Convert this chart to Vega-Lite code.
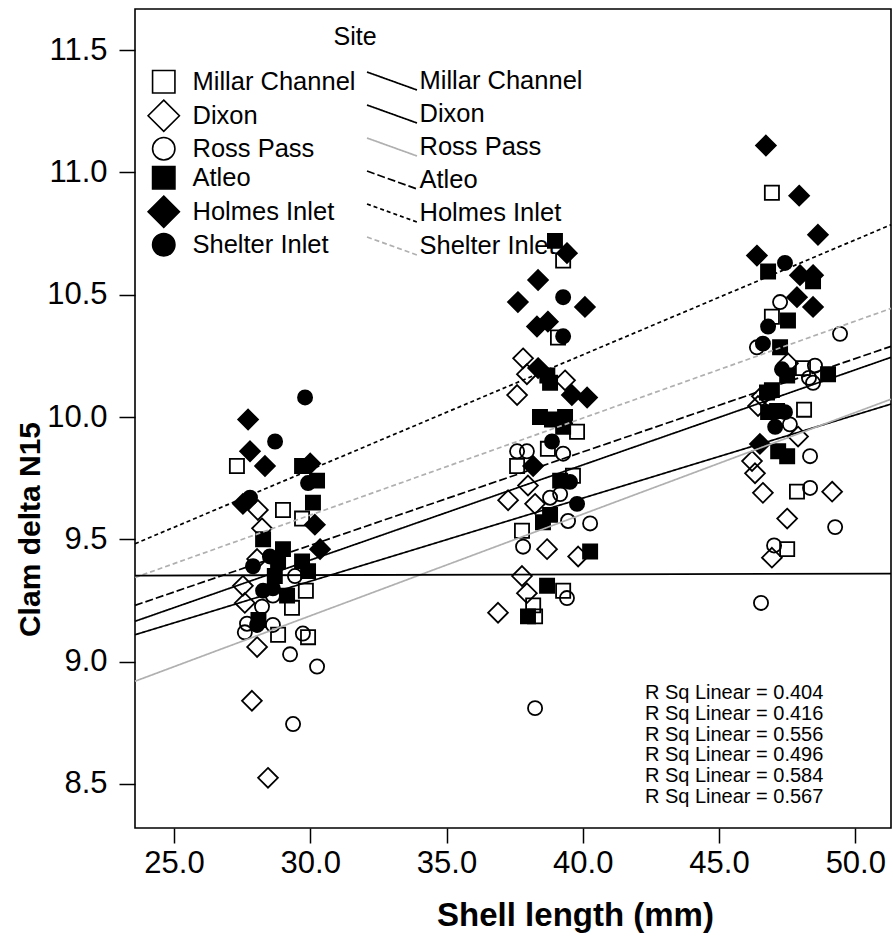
{
  "$schema": "https://vega.github.io/schema/vega-lite/v6.json",
  "width": 756,
  "height": 819,
  "autosize": {"type": "none"},
  "padding": {"left": 135, "top": 9, "right": 2, "bottom": 116},
  "background": "white",
  "config": {
    "view": {"stroke": "black", "strokeWidth": 1.6},
    "font": "Liberation Sans",
    "axis": {"grid": false, "domain": false, "ticks": true, "tickColor": "black", "tickWidth": 1.5, "labelColor": "black", "titleColor": "black"}
  },
  "datasets": {
    "points": [
      {"site": "Millar Channel", "len": 27.31, "n15": 9.80},
      {"site": "Millar Channel", "len": 29.0, "n15": 9.62},
      {"site": "Millar Channel", "len": 29.7, "n15": 9.585},
      {"site": "Millar Channel", "len": 29.84, "n15": 9.29},
      {"site": "Millar Channel", "len": 29.33, "n15": 9.22},
      {"site": "Millar Channel", "len": 28.82, "n15": 9.11},
      {"site": "Millar Channel", "len": 29.92, "n15": 9.10},
      {"site": "Millar Channel", "len": 39.28, "n15": 10.64},
      {"site": "Millar Channel", "len": 39.09, "n15": 10.325},
      {"site": "Millar Channel", "len": 39.79, "n15": 9.94},
      {"site": "Millar Channel", "len": 38.72, "n15": 9.87},
      {"site": "Millar Channel", "len": 37.59, "n15": 9.80},
      {"site": "Millar Channel", "len": 39.64, "n15": 9.76},
      {"site": "Millar Channel", "len": 37.77, "n15": 9.535},
      {"site": "Millar Channel", "len": 39.28, "n15": 9.29},
      {"site": "Millar Channel", "len": 38.18, "n15": 9.23},
      {"site": "Millar Channel", "len": 38.25, "n15": 9.185},
      {"site": "Millar Channel", "len": 46.94, "n15": 10.917},
      {"site": "Millar Channel", "len": 46.94, "n15": 10.41},
      {"site": "Millar Channel", "len": 48.08, "n15": 10.20},
      {"site": "Millar Channel", "len": 48.12, "n15": 10.03},
      {"site": "Millar Channel", "len": 47.86, "n15": 9.695},
      {"site": "Millar Channel", "len": 47.5, "n15": 9.46},
      {"site": "Dixon", "len": 28.08, "n15": 9.62},
      {"site": "Dixon", "len": 28.23, "n15": 9.545},
      {"site": "Dixon", "len": 28.05, "n15": 9.42},
      {"site": "Dixon", "len": 27.53, "n15": 9.31},
      {"site": "Dixon", "len": 27.6, "n15": 9.24},
      {"site": "Dixon", "len": 28.05, "n15": 9.06},
      {"site": "Dixon", "len": 27.86, "n15": 8.84},
      {"site": "Dixon", "len": 28.45, "n15": 8.525},
      {"site": "Dixon", "len": 37.81, "n15": 10.24},
      {"site": "Dixon", "len": 37.95, "n15": 10.175},
      {"site": "Dixon", "len": 39.35, "n15": 10.15},
      {"site": "Dixon", "len": 37.59, "n15": 10.09},
      {"site": "Dixon", "len": 37.99, "n15": 9.72},
      {"site": "Dixon", "len": 37.26, "n15": 9.66},
      {"site": "Dixon", "len": 38.25, "n15": 9.645},
      {"site": "Dixon", "len": 38.69, "n15": 9.46},
      {"site": "Dixon", "len": 39.83, "n15": 9.43},
      {"site": "Dixon", "len": 37.77, "n15": 9.35},
      {"site": "Dixon", "len": 37.95, "n15": 9.28},
      {"site": "Dixon", "len": 36.89, "n15": 9.20},
      {"site": "Dixon", "len": 47.53, "n15": 10.22},
      {"site": "Dixon", "len": 46.57, "n15": 10.085},
      {"site": "Dixon", "len": 46.43, "n15": 10.045},
      {"site": "Dixon", "len": 47.9, "n15": 9.92},
      {"site": "Dixon", "len": 46.21, "n15": 9.82},
      {"site": "Dixon", "len": 46.32, "n15": 9.77},
      {"site": "Dixon", "len": 46.61, "n15": 9.69},
      {"site": "Dixon", "len": 49.15, "n15": 9.695},
      {"site": "Dixon", "len": 47.5, "n15": 9.585},
      {"site": "Dixon", "len": 46.94, "n15": 9.425},
      {"site": "Ross Pass", "len": 29.44, "n15": 9.35},
      {"site": "Ross Pass", "len": 28.23, "n15": 9.225},
      {"site": "Ross Pass", "len": 28.63, "n15": 9.27},
      {"site": "Ross Pass", "len": 27.6, "n15": 9.12},
      {"site": "Ross Pass", "len": 27.68, "n15": 9.155},
      {"site": "Ross Pass", "len": 28.63, "n15": 9.15},
      {"site": "Ross Pass", "len": 29.73, "n15": 9.115},
      {"site": "Ross Pass", "len": 29.26, "n15": 9.03},
      {"site": "Ross Pass", "len": 30.25, "n15": 8.98},
      {"site": "Ross Pass", "len": 29.37, "n15": 8.745},
      {"site": "Ross Pass", "len": 37.59, "n15": 9.86},
      {"site": "Ross Pass", "len": 37.95, "n15": 9.86},
      {"site": "Ross Pass", "len": 39.28, "n15": 9.85},
      {"site": "Ross Pass", "len": 38.8, "n15": 9.67},
      {"site": "Ross Pass", "len": 39.17, "n15": 9.685},
      {"site": "Ross Pass", "len": 39.46, "n15": 9.575},
      {"site": "Ross Pass", "len": 40.27, "n15": 9.565},
      {"site": "Ross Pass", "len": 37.81, "n15": 9.47},
      {"site": "Ross Pass", "len": 39.42, "n15": 9.26},
      {"site": "Ross Pass", "len": 38.25, "n15": 8.81},
      {"site": "Ross Pass", "len": 47.24, "n15": 10.47},
      {"site": "Ross Pass", "len": 49.44, "n15": 10.34},
      {"site": "Ross Pass", "len": 46.39, "n15": 10.285},
      {"site": "Ross Pass", "len": 48.52, "n15": 10.21},
      {"site": "Ross Pass", "len": 48.45, "n15": 10.14},
      {"site": "Ross Pass", "len": 48.3, "n15": 10.16},
      {"site": "Ross Pass", "len": 47.6, "n15": 9.97},
      {"site": "Ross Pass", "len": 48.34, "n15": 9.84},
      {"site": "Ross Pass", "len": 48.34, "n15": 9.71},
      {"site": "Ross Pass", "len": 49.26, "n15": 9.55},
      {"site": "Ross Pass", "len": 47.02, "n15": 9.475},
      {"site": "Ross Pass", "len": 46.54, "n15": 9.24},
      {"site": "Atleo", "len": 29.70, "n15": 9.80},
      {"site": "Atleo", "len": 30.25, "n15": 9.74},
      {"site": "Atleo", "len": 30.1, "n15": 9.65},
      {"site": "Atleo", "len": 28.27, "n15": 9.50},
      {"site": "Atleo", "len": 29.0, "n15": 9.46},
      {"site": "Atleo", "len": 28.82, "n15": 9.41},
      {"site": "Atleo", "len": 28.7, "n15": 9.35},
      {"site": "Atleo", "len": 29.7, "n15": 9.41},
      {"site": "Atleo", "len": 29.92, "n15": 9.37},
      {"site": "Atleo", "len": 28.1, "n15": 9.17},
      {"site": "Atleo", "len": 29.15, "n15": 9.27},
      {"site": "Atleo", "len": 38.98, "n15": 10.72},
      {"site": "Atleo", "len": 38.8, "n15": 10.14},
      {"site": "Atleo", "len": 38.7, "n15": 10.17},
      {"site": "Atleo", "len": 38.43, "n15": 10.00},
      {"site": "Atleo", "len": 38.87, "n15": 9.99},
      {"site": "Atleo", "len": 39.35, "n15": 10.00},
      {"site": "Atleo", "len": 39.28, "n15": 9.96},
      {"site": "Atleo", "len": 39.17, "n15": 9.74},
      {"site": "Atleo", "len": 38.8, "n15": 9.60},
      {"site": "Atleo", "len": 38.54, "n15": 9.57},
      {"site": "Atleo", "len": 40.27, "n15": 9.45},
      {"site": "Atleo", "len": 38.69, "n15": 9.31},
      {"site": "Atleo", "len": 37.99, "n15": 9.185},
      {"site": "Atleo", "len": 46.8, "n15": 10.595},
      {"site": "Atleo", "len": 48.45, "n15": 10.555},
      {"site": "Atleo", "len": 47.53, "n15": 10.395},
      {"site": "Atleo", "len": 47.24, "n15": 10.285},
      {"site": "Atleo", "len": 47.5, "n15": 10.17},
      {"site": "Atleo", "len": 49.0, "n15": 10.175},
      {"site": "Atleo", "len": 46.94, "n15": 10.11},
      {"site": "Atleo", "len": 46.76, "n15": 10.10},
      {"site": "Atleo", "len": 46.8, "n15": 10.02},
      {"site": "Atleo", "len": 47.13, "n15": 10.025},
      {"site": "Atleo", "len": 47.5, "n15": 9.84},
      {"site": "Atleo", "len": 47.17, "n15": 9.86},
      {"site": "Holmes Inlet", "len": 27.72, "n15": 9.99},
      {"site": "Holmes Inlet", "len": 27.79, "n15": 9.86},
      {"site": "Holmes Inlet", "len": 28.34, "n15": 9.80},
      {"site": "Holmes Inlet", "len": 30.0, "n15": 9.81},
      {"site": "Holmes Inlet", "len": 30.17, "n15": 9.56},
      {"site": "Holmes Inlet", "len": 27.53, "n15": 9.645},
      {"site": "Holmes Inlet", "len": 30.36, "n15": 9.46},
      {"site": "Holmes Inlet", "len": 39.42, "n15": 10.67},
      {"site": "Holmes Inlet", "len": 38.36, "n15": 10.56},
      {"site": "Holmes Inlet", "len": 37.62, "n15": 10.47},
      {"site": "Holmes Inlet", "len": 40.08, "n15": 10.45},
      {"site": "Holmes Inlet", "len": 38.32, "n15": 10.37},
      {"site": "Holmes Inlet", "len": 38.72, "n15": 10.39},
      {"site": "Holmes Inlet", "len": 38.36, "n15": 10.20},
      {"site": "Holmes Inlet", "len": 39.6, "n15": 10.09},
      {"site": "Holmes Inlet", "len": 40.16, "n15": 10.08},
      {"site": "Holmes Inlet", "len": 38.18, "n15": 9.80},
      {"site": "Holmes Inlet", "len": 46.72, "n15": 11.11},
      {"site": "Holmes Inlet", "len": 47.94, "n15": 10.905},
      {"site": "Holmes Inlet", "len": 48.63, "n15": 10.745},
      {"site": "Holmes Inlet", "len": 46.39, "n15": 10.66},
      {"site": "Holmes Inlet", "len": 47.97, "n15": 10.58},
      {"site": "Holmes Inlet", "len": 48.45, "n15": 10.58},
      {"site": "Holmes Inlet", "len": 47.86, "n15": 10.49},
      {"site": "Holmes Inlet", "len": 48.45, "n15": 10.45},
      {"site": "Holmes Inlet", "len": 46.5, "n15": 9.89},
      {"site": "Shelter Inlet", "len": 29.81, "n15": 10.08},
      {"site": "Shelter Inlet", "len": 28.71, "n15": 9.90},
      {"site": "Shelter Inlet", "len": 29.92, "n15": 9.73},
      {"site": "Shelter Inlet", "len": 27.79, "n15": 9.67},
      {"site": "Shelter Inlet", "len": 28.52, "n15": 9.43},
      {"site": "Shelter Inlet", "len": 28.63, "n15": 9.30},
      {"site": "Shelter Inlet", "len": 28.27, "n15": 9.29},
      {"site": "Shelter Inlet", "len": 27.9, "n15": 9.39},
      {"site": "Shelter Inlet", "len": 28.05, "n15": 9.15},
      {"site": "Shelter Inlet", "len": 39.28, "n15": 10.49},
      {"site": "Shelter Inlet", "len": 39.28, "n15": 10.33},
      {"site": "Shelter Inlet", "len": 38.87, "n15": 9.90},
      {"site": "Shelter Inlet", "len": 39.53, "n15": 9.735},
      {"site": "Shelter Inlet", "len": 39.79, "n15": 9.645},
      {"site": "Shelter Inlet", "len": 47.42, "n15": 10.63},
      {"site": "Shelter Inlet", "len": 46.8, "n15": 10.37},
      {"site": "Shelter Inlet", "len": 46.61, "n15": 10.30},
      {"site": "Shelter Inlet", "len": 47.31, "n15": 10.195},
      {"site": "Shelter Inlet", "len": 47.42, "n15": 10.02},
      {"site": "Shelter Inlet", "len": 47.06, "n15": 9.96}
    ],
    "fits": [
      {"site": "Millar Channel", "k": 1, "len": 23.57, "n15": 9.165},
      {"site": "Millar Channel", "k": 1, "len": 51.31, "n15": 10.244},
      {"site": "Dixon", "k": 2, "len": 23.57, "n15": 9.11},
      {"site": "Dixon", "k": 2, "len": 51.31, "n15": 10.053},
      {"site": "Ross Pass", "k": 3, "len": 23.57, "n15": 8.92},
      {"site": "Ross Pass", "k": 3, "len": 51.31, "n15": 10.073},
      {"site": "Atleo", "k": 4, "len": 23.57, "n15": 9.23},
      {"site": "Atleo", "k": 4, "len": 51.31, "n15": 10.289},
      {"site": "Holmes Inlet", "k": 5, "len": 23.57, "n15": 9.482},
      {"site": "Holmes Inlet", "k": 5, "len": 51.31, "n15": 10.786},
      {"site": "Shelter Inlet", "k": 6, "len": 23.57, "n15": 9.344},
      {"site": "Shelter Inlet", "k": 6, "len": 51.31, "n15": 10.444}
    ],
    "ref": [
      {"len": 23.57, "n15": 9.352},
      {"len": 51.31, "n15": 9.36}
    ],
    "rsq": [
      {"label": "R Sq Linear = 0.404", "len": 42.28, "n15": 8.872},
      {"label": "R Sq Linear = 0.416", "len": 42.28, "n15": 8.787},
      {"label": "R Sq Linear = 0.556", "len": 42.28, "n15": 8.702},
      {"label": "R Sq Linear = 0.496", "len": 42.28, "n15": 8.617},
      {"label": "R Sq Linear = 0.584", "len": 42.28, "n15": 8.532},
      {"label": "R Sq Linear = 0.567", "len": 42.28, "n15": 8.447}
    ]
  },
  "layer": [
    {
      "data": {"name": "points"},
      "mark": {"type": "point", "size": 200, "stroke": "black", "strokeWidth": 1.8, "opacity": 1},
      "encoding": {
        "x": {
          "field": "len", "type": "quantitative",
          "scale": {"domain": [23.57, 51.31], "nice": false, "zero": false},
          "axis": {"values": [25, 30, 35, 40, 45, 50], "format": ".1f", "title": "Shell length (mm)", "ticks": true, "tickSize": 15, "labelFontSize": 31, "labelPadding": 5, "titleFontSize": 33, "titleFontWeight": "bold", "titleX": 440, "titleY": 87, "titleBaseline": "middle"}
        },
        "y": {
          "field": "n15", "type": "quantitative",
          "scale": {"domain": [8.32, 11.668], "nice": false, "zero": false},
          "axis": {"values": [8.5, 9, 9.5, 10, 10.5, 11, 11.5], "format": ".1f", "title": "Clam delta N15", "ticks": true, "tickSize": 16, "labelFontSize": 31, "labelPadding": 12, "titleFontSize": 30, "titleFontWeight": "bold", "titleX": -105, "titleY": 520, "titleBaseline": "middle"}
        },
        "shape": {
          "field": "site", "type": "nominal",
          "scale": {"domain": ["Millar Channel", "Dixon", "Ross Pass", "Atleo", "Holmes Inlet", "Shelter Inlet"], "range": ["square", "M0,-1.4L1.4,0L0,1.4L-1.4,0Z", "circle", "square", "M0,-1.4L1.4,0L0,1.4L-1.4,0Z", "circle"]},
          "legend": {"orient": "top-left", "offset": 16, "padding": 0, "title": "Site", "titleFontSize": 25, "titleFontWeight": "normal", "titleColor": "black", "titleAnchor": "end", "titleAlign": "center", "titlePadding": 19, "symbolSize": 500, "symbolStrokeWidth": 1.6, "labelFontSize": 25.5, "labelLimit": 400, "labelColor": "black", "labelOffset": 16, "rowPadding": -1, "encode": {"symbols": {"stroke": {"value": "black"}, "strokeWidth": {"value": 1.6}}}}
        },
        "fill": {
          "field": "site", "type": "nominal",
          "scale": {"domain": ["Millar Channel", "Dixon", "Ross Pass", "Atleo", "Holmes Inlet", "Shelter Inlet"], "range": ["transparent", "transparent", "transparent", "black", "black", "black"]},
          "legend": {"orient": "top-left", "offset": 16, "padding": 0, "title": "Site", "titleFontSize": 25, "titleFontWeight": "normal", "titleColor": "black", "titleAnchor": "end", "titleAlign": "center", "titlePadding": 19, "symbolSize": 500, "symbolStrokeWidth": 1.6, "labelFontSize": 25.5, "labelLimit": 400, "labelColor": "black", "labelOffset": 16, "rowPadding": -1, "encode": {"symbols": {"stroke": {"value": "black"}, "strokeWidth": {"value": 1.6}}}}
        }
      }
    },
    {
      "data": {"name": "fits"},
      "mark": {"type": "line", "strokeWidth": 1.7},
      "encoding": {
        "x": {"field": "len", "type": "quantitative"},
        "y": {"field": "n15", "type": "quantitative"},
        "stroke": {
          "field": "site", "type": "nominal", "sort": {"field": "k", "op": "min"},
          "scale": {"range": ["black", "black", "#b0b0b0", "black", "black", "#b0b0b0"]},
          "legend": {"orient": "none", "legendX": 243.5, "legendY": 58.5, "title": null, "symbolType": "M-2,-0.72L2,0.72", "symbolSize": 625, "symbolStrokeWidth": 1.7, "symbolFillColor": "transparent", "labelFontSize": 25.5, "labelLimit": 400, "labelColor": "black", "labelOffset": 14, "rowPadding": 6}
        },
        "strokeDash": {
          "field": "site", "type": "nominal", "sort": {"field": "k", "op": "min"},
          "scale": {"range": [[1, 0], [1, 0], [1, 0], [8, 3], [4, 3], [5, 3]]},
          "legend": {"orient": "none", "legendX": 243.5, "legendY": 58.5, "title": null, "symbolType": "M-2,-0.72L2,0.72", "symbolSize": 625, "symbolStrokeWidth": 1.7, "symbolFillColor": "transparent", "labelFontSize": 25.5, "labelLimit": 400, "labelColor": "black", "labelOffset": 14, "rowPadding": 6}
        }
      }
    },
    {
      "data": {"name": "ref"},
      "mark": {"type": "line", "color": "black", "strokeWidth": 1.8},
      "encoding": {
        "x": {"field": "len", "type": "quantitative"},
        "y": {"field": "n15", "type": "quantitative"}
      }
    },
    {
      "data": {"name": "rsq"},
      "mark": {"type": "text", "align": "left", "baseline": "middle", "fontSize": 20, "color": "black"},
      "encoding": {
        "x": {"field": "len", "type": "quantitative"},
        "y": {"field": "n15", "type": "quantitative"},
        "text": {"field": "label"}
      }
    }
  ]
}
